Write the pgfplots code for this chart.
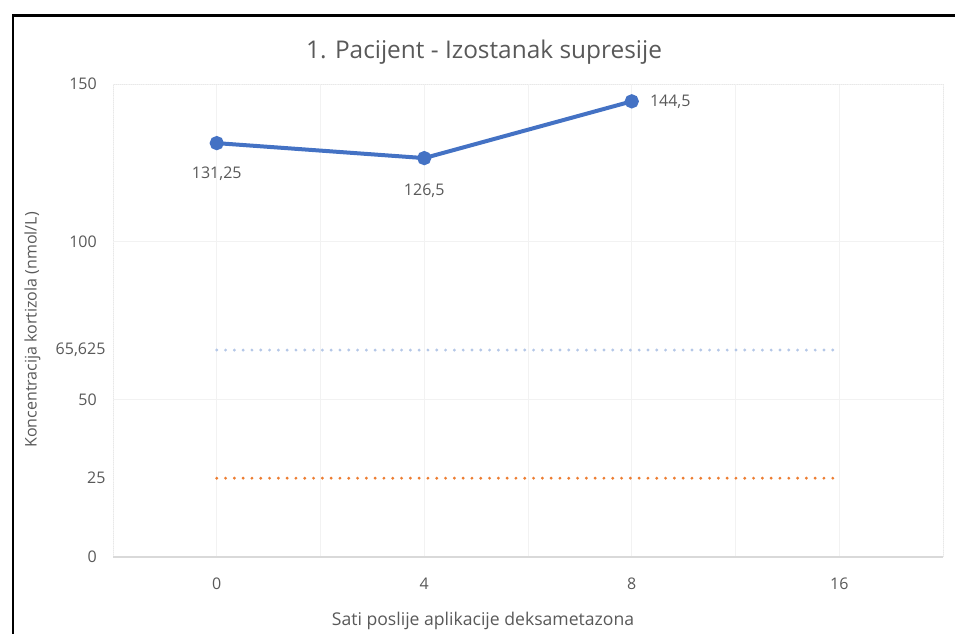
\documentclass[border=0pt]{standalone}
\usepackage{fontspec}
\setmainfont{Open Sans}
\usepackage{pgfplots}
\pgfplotsset{compat=1.18}
\definecolor{txt}{HTML}{595959}
\definecolor{lineblue}{HTML}{4472C4}
\definecolor{lightblue}{HTML}{B4C7E7}
\definecolor{orange2}{HTML}{ED7D31}
\definecolor{gridc}{HTML}{F2F2F2}
\definecolor{axisc}{HTML}{D9D9D9}
\begin{document}
\begin{tikzpicture}
\path[use as bounding box] (0,0) rectangle (716.25pt,475.5pt);
% frame of the screenshot (left and top edges only)
\draw[black, line width=2.2pt] (9.75pt,0) -- (9.75pt,463.9pt) -- (716.25pt,463.9pt);
\begin{axis}[
  at={(84.75pt,57.75pt)}, anchor=south west,
  scale only axis, width=622.5pt, height=354.75pt,
  xmin=-0.5, xmax=3.5, ymin=0, ymax=150,
  xtick={0,1,2,3}, xticklabels={0,4,8,16},
  minor xtick={-0.5,0.5,1.5,2.5,3.5},
  ytick={0,50,100,150},
  extra y ticks={25,65.625},
  extra y tick labels={25,{65,625}},
  extra y tick style={grid=none, yticklabel style={xshift=6.5pt}},
  major tick length=0pt, minor tick length=0pt,
  xmajorgrids, xminorgrids, ymajorgrids,
  grid style={gridc, line width=0.6pt},
  minor grid style={gridc, line width=0.6pt},
  axis line style={axisc!60, densely dotted, line width=0.6pt},
  /pgf/number format/assume math mode=true,
  tick label style={font=\fontsize{12}{14}\selectfont, text=txt},
  yticklabel style={anchor=east, inner sep=0pt, xshift=-12pt},
  xticklabel style={anchor=center, inner sep=0pt, yshift=-20pt},
  title={1. Pacijent - Izostanak supresije},
  title style={font=\fontsize{18.3}{21}\selectfont, text=txt, at={(axis description cs:0.447,1)}, anchor=center, yshift=17.5pt},
  xlabel={Sati poslije aplikacije deksametazona},
  xlabel style={font=\fontsize{13.2}{15}\selectfont, text=txt, at={(axis description cs:0.4458,0)}, anchor=center, yshift=-48pt},
  ylabel={Koncentracija kortizola (nmol/L)},
  ylabel style={font=\fontsize{12}{14}\selectfont, text=txt, at={(axis description cs:-0.097,0.48)}, anchor=center},
  clip=false,
]
\addplot[lightblue, line width=2.4pt, line cap=round, dash pattern=on 0pt off 6.6pt] coordinates {(0,65.625) (3,65.625)};
\addplot[orange2, line width=2.4pt, line cap=round, dash pattern=on 0pt off 6.6pt] coordinates {(0,25) (3,25)};
\addplot[lineblue, line width=3pt, mark=*, mark size=3.8pt, mark options={solid, fill=lineblue}] coordinates {(0,131.25) (1,126.5) (2,144.5)};
\draw[axisc, line width=1.1pt] (rel axis cs:0,0) -- (rel axis cs:1,0);
\node[font=\fontsize{12}{14}\selectfont, text=txt] at (axis cs:0,131.25) [yshift=-23.3pt] {131,25};
\node[font=\fontsize{12}{14}\selectfont, text=txt] at (axis cs:1,126.5) [yshift=-24.5pt] {126,5};
\node[font=\fontsize{12}{14}\selectfont, text=txt, anchor=west, inner sep=0pt] at (axis cs:2,144.5) [xshift=13.5pt] {144,5};
\end{axis}
\end{tikzpicture}
\end{document}
